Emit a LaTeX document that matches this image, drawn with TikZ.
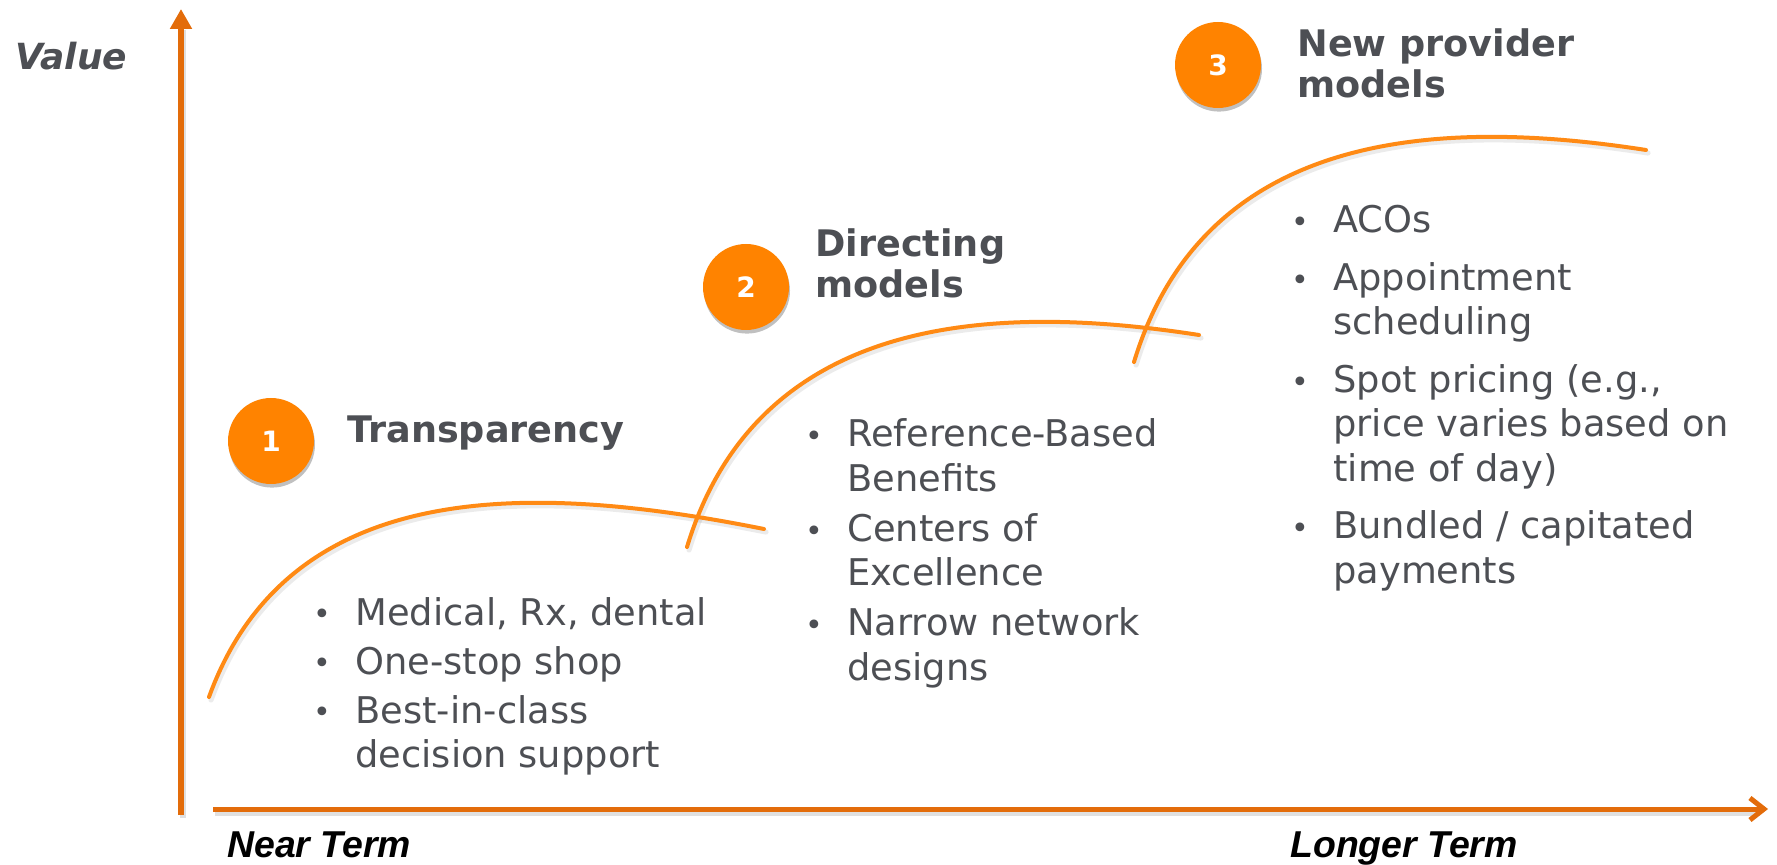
\documentclass[tikz,border=0pt]{standalone}
\usepackage{fontspec}
\setmainfont{DejaVu Sans}
\newfontfamily\axisfont{Liberation Sans}
\usetikzlibrary{arrows.meta,shadows}

\definecolor{axisorange}{HTML}{E36C0A}
\definecolor{curveorange}{HTML}{FF8A14}
\definecolor{badgeorange}{HTML}{FF8300}
\definecolor{textgray}{HTML}{4D4F54}

% bullet with a fixed-width slot, and the matching indent for wrapped lines
\newcommand\blt{\makebox[22pt][l]{\hspace{1.1pt}\raisebox{0.2pt}{\fontsize{15}{15}\selectfont\textbullet}}}
\newcommand\ind{\hspace*{22pt}}

\tikzset{
  axisline/.style={draw=axisorange, line cap=butt},
  axisshadow/.style={draw=black, opacity=0.12},
  growth/.style={draw=curveorange, line width=2pt, line cap=round},
  growthshadow/.style={draw=black, opacity=0.08, line width=2.6pt, line cap=round},
  badge/.style={circle, fill=badgeorange, minimum size=43pt, inner sep=0pt,
    text=white, font=\fontsize{14}{14}\selectfont\bfseries,
    drop shadow={shadow xshift=0.5pt, shadow yshift=-1.8pt, opacity=0.35, fill=black!70}},
  heading/.style={anchor=base west, inner sep=0pt, text=textgray,
    font=\fontsize{18.3}{20.5}\selectfont\bfseries},
  bodytext/.style={anchor=base west, inner sep=0pt, text=textgray,
    font=\fontsize{18.4}{22.25}\selectfont},
  termlabel/.style={anchor=base west, inner sep=0pt, text=black,
    font=\axisfont\fontsize{18.7}{18.7}\selectfont\bfseries\itshape},
}

\begin{document}
\begin{tikzpicture}[x=0.5pt,y=-0.5pt]
  \useasboundingbox[fill=white] (0,0) rectangle (1777,865);

  % axes, with a faint shadow underneath
  \draw[axisshadow, line width=3.4pt] (183,818) -- (183,30);
  \draw[axisshadow, line width=2.5pt] (215,813) -- (1760,813);
  \draw[axisline, line width=3.4pt, -{Triangle[length=10pt,width=10.5pt]}] (181,815) -- (181,9);
  \draw[axisline, line width=2.5pt, -{Straight Barb[length=7pt,width=11pt]}] (213,809) -- (1768,809);

  % axis labels
  \node[anchor=base west, inner sep=0pt, text=textgray,
        font=\fontsize{18}{18}\selectfont\bfseries\itshape] (value) at (15,70) {Value};
  \node[termlabel] (near) at (227,857) {Near Term};
  \node[termlabel] (longer) at (1290,857) {Longer Term};

  % three overlapping growth curves
  \draw[growthshadow] (211,700) .. controls (291,480) and (531,485) .. (766,532);
  \draw[growthshadow] (689,550) .. controls (759,320) and (989,305) .. (1201,338);
  \draw[growthshadow] (1136,365) .. controls (1206,135) and (1436,120) .. (1648,153);
  \draw[growth] (209,697) .. controls (289,477) and (529,482) .. (764,529);
  \draw[growth] (687,547) .. controls (757,317) and (987,302) .. (1199,335);
  \draw[growth] (1134,362) .. controls (1204,132) and (1434,117) .. (1646,150);

  % numbered badges
  \node[badge] (b1) at (271,441) {1};
  \node[badge] (b2) at (746,287) {2};
  \node[badge] (b3) at (1218,65) {3};

  % stage headings
  \node[heading] (t1) at (347,443) {Transparency};
  \node[heading] (t2) at (815,257) {\begin{tabular}[t]{@{}l@{}}Directing\\models\end{tabular}};
  \node[heading] (t3) at (1297,57) {\begin{tabular}[t]{@{}l@{}}New provider\\models\end{tabular}};

  % bullet lists
  \node[bodytext] (l1) at (311,625) {\begin{tabular}[t]{@{}l@{}}
    \blt Medical, Rx, dental\\[2.25pt]
    \blt One-stop shop\\[2.25pt]
    \blt Best-in-class\\
    \ind decision support
  \end{tabular}};
  \node[bodytext] (l2) at (803,447) {\begin{tabular}[t]{@{}l@{}}
    \blt Reference-Based\\
    \ind Benefits\\[2.75pt]
    \blt Centers of\\
    \ind Excellence\\[2.75pt]
    \blt Narrow network\\
    \ind designs
  \end{tabular}};
  \node[bodytext] (l3) at (1289,233) {\begin{tabular}[t]{@{}l@{}}
    \blt ACOs\\[6.5pt]
    \blt Appointment\\
    \ind scheduling\\[6.5pt]
    \blt Spot pricing (e.g.,\\
    \ind price varies based on\\
    \ind time of day)\\[6.5pt]
    \blt Bundled / capitated\\
    \ind payments
  \end{tabular}};
\end{tikzpicture}
\end{document}
